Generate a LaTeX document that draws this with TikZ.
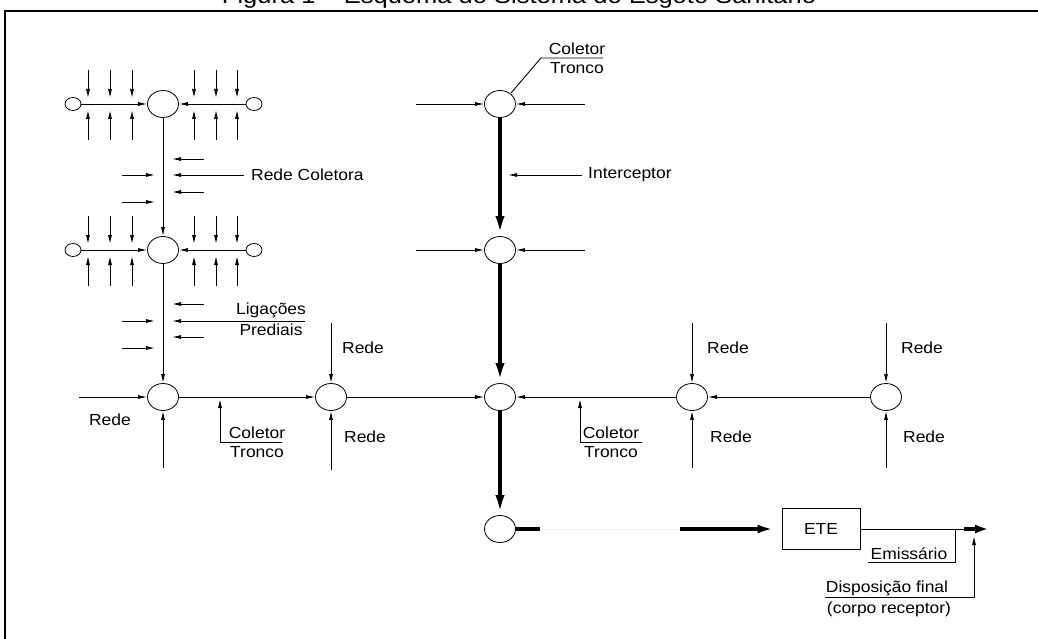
\documentclass[tikz,border=0pt]{standalone}
\usepackage{fontspec}
\setmainfont{Liberation Sans}[FakeStretch=1.09]
\usetikzlibrary{shapes.geometric,arrows.meta}
\begin{document}
\begin{tikzpicture}[x=1pt,y=-1pt,
  every node/.style={font=\fontsize{16}{19}\selectfont, inner sep=0pt},
  circ/.style={draw, ellipse, minimum width=31pt, minimum height=27pt, line width=0.8pt},
  smallc/.style={draw, ellipse, minimum width=16pt, minimum height=13pt, line width=0.8pt},
  ln/.style={line width=0.9pt},
  arr/.style={ln, -{Latex[length=9pt,width=4pt]}},
  bigarr/.style={line width=3.8pt, -{Latex[length=20pt,width=9pt]}},
  fat/.style={line width=4pt}
]
\useasboundingbox (0,0) rectangle (1038,639);
\clip (0,0) rectangle (1038,639);
\fill[white] (0,0) rectangle (1038,639);

% title (cut off at the top, as in the reference)
\node[anchor=base, font=\fontsize{23.4}{28}\selectfont] (title) at (519,4) {Figura 1 – Esquema do Sistema de Esgoto Sanitário};
% frame
\draw[line width=1.5pt] (1045,11) -- (5,11) -- (5,650);

% main nodes
\node[circ] (A1) at (163,104) {};
\node[circ] (A2) at (163,250) {};
\node[circ] (A3) at (163,397) {};
\node[circ] (B3) at (331,397) {};
\node[circ] (C1) at (500,104) {};
\node[circ] (C2) at (500,250) {};
\node[circ] (C3) at (500,397) {};
\node[circ] (C4) at (500,529) {};
\node[circ] (D3) at (692,397) {};
\node[circ] (E3) at (886,397) {};
\node[smallc] (a1l) at (73,104) {};
\node[smallc] (a1r) at (254,104) {};
\node[smallc] (a2l) at (73,250) {};
\node[smallc] (a2r) at (254,250) {};
\node[draw, line width=0.8pt, minimum width=78pt, minimum height=41pt] (ETE) at (821,529) {ETE};

% left network
\draw[arr] (a1l) -- (A1);
\draw[arr] (a1r) -- (A1);
\draw[arr] (a2l) -- (A2);
\draw[arr] (a2r) -- (A2);
\foreach \x in {88,110,132,194,216,237}{
  \foreach \y in {104,250}{
    \draw[arr] (\x,\y-34) -- (\x,\y-6);
    \draw[arr] (\x,\y+36) -- (\x,\y+6);
  }
}
\draw[arr] (A1) -- (A2);
\draw[arr] (A2) -- (A3);

% Rede Coletora
\draw[arr] (204,159) -- (172,159);
\draw[arr] (204,192) -- (172,192);
\draw[arr] (122,175) -- (155,175);
\draw[arr] (122,202) -- (155,202);
\draw[arr] (244,175) -- (172,175);
\node[anchor=west] (lrc) at (251,175) {Rede Coletora};

% Ligacoes prediais
\draw[arr] (204,304) -- (172,304);
\draw[arr] (204,337) -- (172,337);
\draw[arr] (122,321) -- (155,321);
\draw[arr] (122,348) -- (155,348);
\draw[arr] (305,321) -- (172,321);
\node (llig) at (271,310) {Ligações};
\node (lpre) at (271,330) {Prediais};

% bottom row
\draw[arr] (79,397) -- (A3);
\node (lr1) at (110,420) {Rede};
\draw[arr] (163,468) -- (A3);
\draw[arr] (A3) -- (B3);
\draw[arr] (331,323) -- (B3);
\draw[arr] (331,470) -- (B3);
\node (lr2) at (363,348) {Rede};
\node (lr3) at (365,437) {Rede};
\draw[arr] (282,442) -- (220,442) -- (220,399);
\node (lct1) at (257,433) {Coletor};
\node (lct2) at (257,452) {Tronco};
\draw[arr] (B3) -- (C3);
\draw[arr] (D3) -- (C3);
\draw[arr] (E3) -- (D3);
\draw[arr] (642,442) -- (580,442) -- (580,399);
\node (lct3) at (611,433) {Coletor};
\node (lct4) at (611,452) {Tronco};
\draw[arr] (692,323) -- (D3);
\draw[arr] (692,468) -- (D3);
\node (lr4) at (728,348) {Rede};
\node (lr5) at (731,437) {Rede};
\draw[arr] (886,323) -- (E3);
\draw[arr] (886,468) -- (E3);
\node (lr6) at (922,348) {Rede};
\node (lr7) at (924,437) {Rede};

% central column
\draw[arr] (416,104) -- (C1);
\draw[arr] (585,104) -- (C1);
\draw[arr] (416,250) -- (C2);
\draw[arr] (585,250) -- (C2);
\draw[ln] (603,58) -- (541,58) -- (511,93);
\node (lct5) at (577,49) {Coletor};
\node (lct6) at (577,68) {Tronco};
\draw[bigarr] (C1) -- (C2);
\draw[bigarr] (C2) -- (C3);
\draw[bigarr] (C3) -- (C4);
\draw[arr] (582,175) -- (508,175);
\node[anchor=west] (lint) at (588,175) {Interceptor};

% to treatment and disposal
\draw[fat] (C4.east) -- (540,529);
\draw[gray!12, line width=0.8pt] (540,529) -- (680,529);
\draw[fat, -{Latex[length=24pt,width=8pt]}] (680,529) -- (ETE.west);
\draw[ln] (ETE.east) -- (964,529);
\draw[fat, -{Latex[length=22pt,width=8pt]}] (964,529) -- (997,529);
\draw[ln] (868,562) -- (955,562) -- (955,529);
\node (lemi) at (909,554) {Emissário};
\draw[arr] (825,597) -- (974,597) -- (974,536);
\node (ldisp) at (887,588) {Disposição final};
\node (lcorp) at (889,609) {(corpo receptor)};
\end{tikzpicture}
\end{document}
